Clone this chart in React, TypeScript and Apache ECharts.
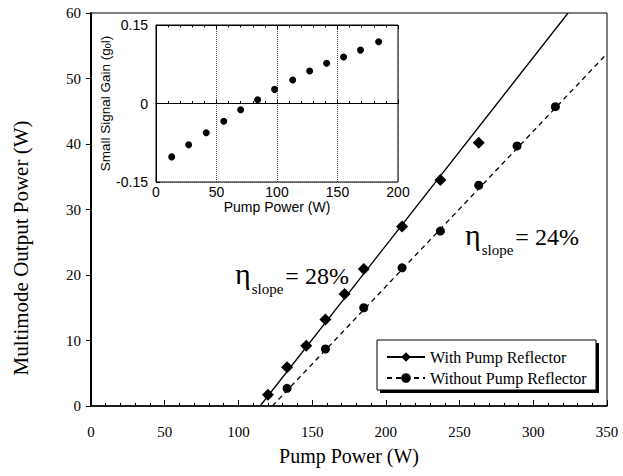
import React, { useEffect, useRef } from 'react';
import * as echarts from 'echarts';

// Main chart data (Pump Power W, Output Power W)
const withX = [120, 133, 146, 159, 172, 185, 211, 237, 263];
const withY = [1.7, 5.9, 9.2, 13.2, 17.1, 20.9, 27.4, 34.5, 40.2];
const withoutX = [133, 159, 185, 211, 237, 263, 289, 315];
const withoutY = [2.7, 8.7, 15.0, 21.1, 26.7, 33.7, 39.7, 45.7];
// Fitted slope lines (endpoints)
const withFitX = [114.7, 323.6];
const withFitY = [0, 60];
const withoutFitX = [123, 350];
const withoutFitY = [0, 53.8];
// Inset: small signal gain
const gainX = [13, 27, 41.5, 56, 70, 84, 98, 113, 127, 141, 155, 169, 184];
const gainY = [-0.102, -0.079, -0.056, -0.034, -0.012, 0.007, 0.027, 0.045, 0.062, 0.077, 0.089, 0.102, 0.118];

const mainXRange = [0, 350, 50];
const mainYRange = [0, 60, 10];
const insetXRange = [0, 200, 50];
const insetYRange = [-0.15, 0.15, 0.15];

const seriesNames = ['With Pump Reflector', 'Without Pump Reflector'];
const slopeLabels = ['= 28%', '= 24%'];

const SERIF = '"Liberation Serif", "DejaVu Serif", serif';
const SANS = 'Liberation Sans';

const zip = (a: number[], b: number[]) => a.map((v, i) => [v, b[i]]);

export default function App() {
  const ref = useRef<HTMLDivElement>(null);
  useEffect(() => {
    if (!ref.current) return;
    const chart = echarts.init(ref.current, null, { renderer: 'svg' });
    const serifLabel = { fontFamily: SERIF, fontSize: 15, color: '#000' };
    const sansLabel = { fontFamily: SANS, fontSize: 14, color: '#000' };
    const slopeText = (x: number, y: number, label: string) => ({
      type: 'text', x, y, z: 20,
      style: {
        text: `{e|η}{s|slope}{t|${label}}`,
        fontFamily: SERIF, fontSize: 24, fill: '#000',
        align: 'left', verticalAlign: 'middle',
        rich: {
          e: { fontFamily: SERIF, fontSize: 30, fill: '#000', verticalAlign: 'middle', lineHeight: 40, padding: [0, 1, 6, 0] },
          s: { fontFamily: SERIF, fontSize: 15, fill: '#000', verticalAlign: 'bottom', lineHeight: 40, padding: [0, 2, 0, 0] },
          t: { fontFamily: SERIF, fontSize: 24, fill: '#000', verticalAlign: 'middle', lineHeight: 40, padding: [0, 0, 0, 0] },
        },
      },
    });
    chart.setOption({
      animation: false,
      backgroundColor: '#fff',
      grid: [
        { left: 91, right: 16, top: 13, bottom: 70, show: true, borderColor: '#000', borderWidth: 1, backgroundColor: 'transparent' },
        { left: 156, top: 25, width: 242, height: 157, show: true, borderColor: '#000', borderWidth: 1, backgroundColor: '#fff', z: 1 },
      ],
      xAxis: [
        {
          type: 'value', gridIndex: 0, min: mainXRange[0], max: mainXRange[1], interval: mainXRange[2],
          name: 'Pump Power (W)', nameLocation: 'middle', nameGap: 40,
          nameTextStyle: { fontFamily: SERIF, fontSize: 20, color: '#000' },
          axisLine: { lineStyle: { color: '#000', width: 1.5 } },
          axisTick: { inside: true, length: 6, lineStyle: { color: '#000' } },
          minorTick: { show: true, splitNumber: 5, length: 3, lineStyle: { color: '#000' } },
          axisLabel: { ...serifLabel, margin: 18 },
          splitLine: { show: false },
        },
        {
          type: 'value', gridIndex: 1, min: insetXRange[0], max: insetXRange[1], interval: insetXRange[2],
          name: 'Pump Power (W)', nameLocation: 'middle', nameGap: 14,
          nameTextStyle: { ...sansLabel },
          axisLine: { lineStyle: { color: '#000', width: 1 } },
          axisTick: { inside: true, length: 4, lineStyle: { color: '#000' } },
          minorTick: { show: true, splitNumber: 5, length: 2.5, lineStyle: { color: '#000' } },
          axisLabel: { ...sansLabel, margin: 3 },
          splitLine: { show: true, lineStyle: { color: '#444', type: 'dotted', width: 1 } },
          z: 3,
        },
        {
          type: 'value', gridIndex: 1, position: 'top', min: insetXRange[0], max: insetXRange[1], interval: insetXRange[2],
          axisLine: { lineStyle: { color: '#000', width: 1 } },
          axisTick: { inside: true, length: 4, lineStyle: { color: '#000' } },
          minorTick: { show: true, splitNumber: 5, length: 2.5, lineStyle: { color: '#000' } },
          axisLabel: { show: false },
          splitLine: { show: false },
          z: 3,
        },
      ],
      yAxis: [
        {
          type: 'value', gridIndex: 0, min: mainYRange[0], max: mainYRange[1], interval: mainYRange[2],
          axisLine: { show: true, lineStyle: { color: '#000', width: 2 } },
          axisTick: { show: true, inside: false, length: 5, lineStyle: { color: '#000' } },
          axisLabel: { ...serifLabel, margin: 10 },
          splitLine: { show: false },
        },
        {
          type: 'value', gridIndex: 1, min: insetYRange[0], max: insetYRange[1], interval: insetYRange[2],
          name: 'Small Signal Gain (g{s|0}l)', nameLocation: 'middle', nameGap: 35,
          nameTextStyle: { ...sansLabel, fontSize: 13.5, rich: { s: { fontFamily: SANS, fontSize: 9, verticalAlign: 'bottom', color: '#000' } } },
          axisLine: { show: true, lineStyle: { color: '#000', width: 1 } },
          axisTick: { show: true, inside: true, length: 4, lineStyle: { color: '#000' } },
          axisLabel: { ...sansLabel, margin: 8 },
          splitLine: { show: true, lineStyle: { color: '#444', type: 'dotted', width: 1 } },
          z: 3,
        },
      ],
      legend: {
        orient: 'vertical', left: 386, top: 349, itemGap: 5, itemWidth: 38, itemHeight: 12,
        selectedMode: false, z: 30, padding: 0,
        data: seriesNames,
        textStyle: { fontFamily: SERIF, fontSize: 16, color: '#000' },
      },
      graphic: [
        { type: 'rect', z: 25, shape: { x: 380, y: 343, width: 219, height: 50 }, style: { fill: '#000' } },
        { type: 'rect', z: 26, shape: { x: 377, y: 340, width: 219, height: 50 }, style: { fill: '#fff', stroke: '#000', lineWidth: 1 } },
        slopeText(235, 276, slopeLabels[0]),
        slopeText(465, 237, slopeLabels[1]),
        {
          type: 'text', x: 21, y: 248, rotation: Math.PI / 2, z: 20,
          style: {
            text: 'Multimode Output Power (W)', fontFamily: SERIF, fontSize: 21, fill: '#000',
            align: 'center', verticalAlign: 'middle',
          },
        },
      ],
      series: [
        {
          name: seriesNames[0], type: 'line', xAxisIndex: 0, yAxisIndex: 0,
          data: zip(withFitX, withFitY), symbol: 'diamond', showSymbol: false,
          lineStyle: { color: '#000', width: 1.3, type: 'solid' }, itemStyle: { color: '#000', opacity: 1 },
        },
        {
          name: seriesNames[1], type: 'line', xAxisIndex: 0, yAxisIndex: 0,
          data: zip(withoutFitX, withoutFitY), symbol: 'circle', showSymbol: false,
          lineStyle: { color: '#000', width: 1.3, type: [5, 4] }, itemStyle: { color: '#000', opacity: 1 },
        },
        {
          name: 'withPoints', type: 'scatter', xAxisIndex: 0, yAxisIndex: 0,
          data: zip(withX, withY), symbol: 'diamond', symbolSize: 12, itemStyle: { color: '#000', opacity: 1 },
        },
        {
          name: 'withoutPoints', type: 'scatter', xAxisIndex: 0, yAxisIndex: 0,
          data: zip(withoutX, withoutY), symbol: 'circle', symbolSize: 9, itemStyle: { color: '#000', opacity: 1 },
        },
        {
          name: 'gain', type: 'scatter', xAxisIndex: 1, yAxisIndex: 1,
          data: zip(gainX, gainY), symbol: 'circle', symbolSize: 7, itemStyle: { color: '#000', opacity: 1 }, z: 5,
        },
      ],
    });
    return () => chart.dispose();
  }, []);
  return <div ref={ref} style={{ position: 'fixed', left: 0, top: 0, width: 623, height: 476 }} />;
}
